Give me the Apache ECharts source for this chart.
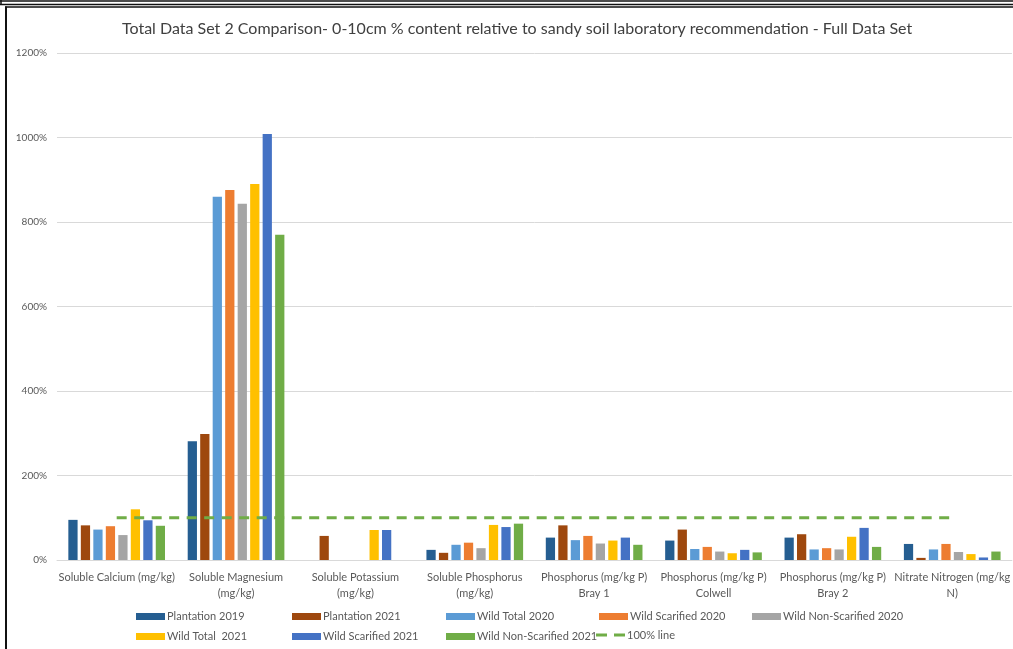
<!DOCTYPE html>
<html>
<head>
<meta charset="utf-8">
<title>Total Data Set 2 Comparison</title>
<script src="https://cdn.jsdelivr.net/npm/echarts@6/dist/echarts.min.js"></script>
<style>
  html, body { margin: 0; padding: 0; background: #fff; }
  #chart { width: 1013px; height: 649px; }
</style>
</head>
<body>
<div id="chart"></div>
<script>
// Nutrient categories (x axis)
const categories = [
  'Soluble Calcium (mg/kg)',
  'Soluble Magnesium\n(mg/kg)',
  'Soluble Potassium\n(mg/kg)',
  'Soluble Phosphorus\n(mg/kg)',
  'Phosphorus (mg/kg P)\nBray 1',
  'Phosphorus (mg/kg P)\nColwell',
  'Phosphorus (mg/kg P)\nBray 2',
  'Nitrate Nitrogen (mg/kg\nN)'
];

// % content relative to the sandy soil recommendation, per site group
const plantation2019       = [95, 281, null, 24, 53, 46, 53, 38];
const plantation2021       = [82, 298, 57, 17, 82, 72, 61, 5];
const wildTotal2020        = [72, 860, null, 36, 47, 26, 25, 25];
const wildScarified2020    = [80, 876, null, 41, 57, 31, 28, 38];
const wildNonScarified2020 = [59, 843, null, 28, 39, 20, 25, 19];
const wildTotal2021        = [120, 890, 71, 83, 46, 16, 55, 14];
const wildScarified2021    = [94, 1008, 71, 78, 53, 24, 76, 6];
const wildNonScarified2021 = [81, 770, null, 86, 36, 18, 31, 20];
const referenceLine        = [100, 100, 100, 100, 100, 100, 100, 100];

// Y axis range (percent)
const yMin = 0, yMax = 1200, yStep = 200;

const barSeries = [
  { name: 'Plantation 2019',         data: plantation2019,       color: '#255E91' },
  { name: 'Plantation 2021',         data: plantation2021,       color: '#9E480E' },
  { name: 'Wild Total 2020',         data: wildTotal2020,        color: '#5B9BD5' },
  { name: 'Wild Scarified 2020',     data: wildScarified2020,    color: '#ED7D31' },
  { name: 'Wild Non-Scarified 2020', data: wildNonScarified2020, color: '#A5A5A5' },
  { name: 'Wild Total  2021',        data: wildTotal2021,        color: '#FFC000' },
  { name: 'Wild Scarified 2021',     data: wildScarified2021,    color: '#4472C4' },
  { name: 'Wild Non-Scarified 2021', data: wildNonScarified2021, color: '#70AD47' }
];
const lineName = '100% line';

const FONT = 'Lato, "Open Sans", sans-serif';
const TXT = '#595959';
const GREEN = '#70AD47';

const series = barSeries.map(s => ({
  name: s.name,
  type: 'bar',
  data: s.data,
  itemStyle: { color: s.color },
  barGap: '35%',
  barCategoryGap: '19%'
}));

series.push({
  name: lineName,
  type: 'line',
  data: referenceLine,
  symbol: 'none',
  showSymbol: false,
  lineStyle: { color: GREEN, width: 3, type: [10, 7.5] },
  itemStyle: { color: GREEN },
  z: 5
});

// Legend laid out in fixed columns, two rows
const ROW1 = 611, ROW2 = 631;
const legendSlots = [
  { name: barSeries[0].name, left: 136, top: ROW1 },
  { name: barSeries[1].name, left: 292, top: ROW1 },
  { name: barSeries[2].name, left: 446, top: ROW1 },
  { name: barSeries[3].name, left: 599, top: ROW1 },
  { name: barSeries[4].name, left: 752, top: ROW1 },
  { name: barSeries[5].name, left: 136, top: ROW2 },
  { name: barSeries[6].name, left: 292, top: ROW2 },
  { name: barSeries[7].name, left: 446, top: ROW2 }
];

const legends = legendSlots.map(slot => ({
  left: slot.left,
  top: slot.top,
  padding: 0,
  itemWidth: 29,
  itemHeight: 7,
  itemGap: 0,
  icon: 'rect',
  data: [slot.name],
  textStyle: { fontFamily: FONT, fontSize: 11, color: TXT, padding: [0, 0, 0, -3] }
}));

// dashed-line key for the reference line
legends.push({
  left: 596,
  top: ROW2 - 3,
  padding: 0,
  itemWidth: 29,
  itemHeight: 14,
  itemGap: 0,
  data: [{
    name: lineName,
    icon: 'path://M0,0H11V3H0Z M18,0H29V3H18Z M0,-5.5H0.01V-5.49H0Z M0,8.5H0.01V8.49H0Z'
  }],
  textStyle: { fontFamily: FONT, fontSize: 11, color: TXT, padding: [0, 0, 0, -3] }
});

const option = {
  animation: false,
  backgroundColor: '#ffffff',
  textStyle: { fontFamily: FONT },
  title: {
    text: 'Total Data Set 2 Comparison- 0-10cm % content relative to sandy soil laboratory recommendation - Full Data Set',
    left: 117,
    top: 16,
    textStyle: { fontFamily: FONT, fontSize: 16, fontWeight: 'normal', color: '#404040' }
  },
  legend: legends,
  grid: { left: 57, top: 53, width: 958, height: 507, containLabel: false },
  xAxis: {
    type: 'category',
    data: categories,
    axisTick: { show: false },
    axisLine: { lineStyle: { color: '#D9D9D9' } },
    axisLabel: {
      interval: 0,
      fontFamily: FONT,
      fontSize: 11,
      color: TXT,
      lineHeight: 16,
      margin: 9
    }
  },
  yAxis: {
    type: 'value',
    min: yMin,
    max: yMax,
    interval: yStep,
    axisLine: { show: false },
    axisTick: { show: false },
    splitLine: { lineStyle: { color: '#D9D9D9', width: 1 } },
    axisLabel: {
      formatter: v => v + '%',
      fontFamily: FONT,
      fontSize: 10,
      color: TXT,
      margin: 10
    }
  },
  series: series,
  // frame lines around the chart area
  graphic: [
    { type: 'line', shape: { x1: 0, y1: 1, x2: 1013, y2: 1 }, style: { stroke: '#111', lineWidth: 1.5 }, silent: true },
    { type: 'line', shape: { x1: 0, y1: 4.5, x2: 1013, y2: 4.5 }, style: { stroke: '#111', lineWidth: 1.5 }, silent: true },
    { type: 'line', shape: { x1: 1, y1: 0, x2: 1, y2: 5 }, style: { stroke: '#111', lineWidth: 1.5 }, silent: true },
    { type: 'line', shape: { x1: 5, y1: 7, x2: 1013, y2: 7 }, style: { stroke: '#111', lineWidth: 1.5 }, silent: true },
    { type: 'line', shape: { x1: 6, y1: 6.5, x2: 6, y2: 649 }, style: { stroke: '#111', lineWidth: 2 }, silent: true }
  ]
};

const chart = echarts.init(document.getElementById('chart'), null, { renderer: 'canvas' });
chart.setOption(option);
</script>
</body>
</html>
